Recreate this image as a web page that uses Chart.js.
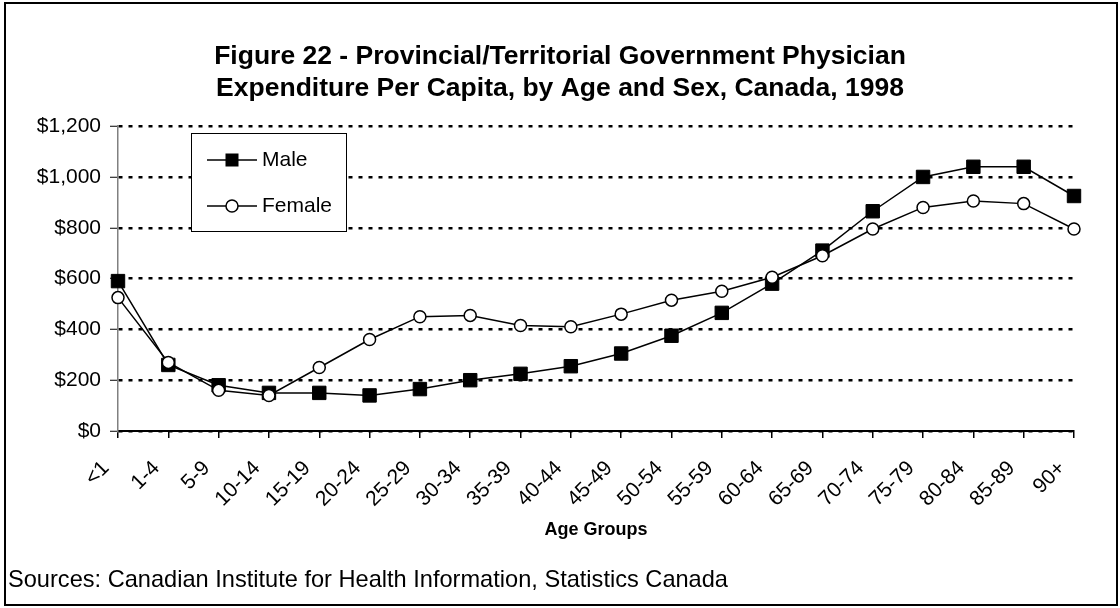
<!DOCTYPE html>
<html>
<head>
<meta charset="utf-8">
<title>Physician Expenditure Per Capita</title>
<script src="https://cdn.jsdelivr.net/npm/chart.js@4.4.1/dist/chart.umd.min.js"></script>
<style>
  html, body { margin: 0; padding: 0; background: #ffffff; }
  canvas { display: block; }
</style>
</head>
<body>
<canvas id="lineChart" width="1120" height="608"></canvas>
<script>
const ageGroups = ['<1', '1-4', '5-9', '10-14', '15-19', '20-24', '25-29', '30-34', '35-39', '40-44',
  '45-49', '50-54', '55-59', '60-64', '65-69', '70-74', '75-79', '80-84', '85-89', '90+'];
const maleSpend = [590, 260, 180, 150, 150, 140, 165, 200, 225, 255,
  305, 375, 465, 580, 710, 865, 1000, 1040, 1040, 925];
const femaleSpend = [525, 270, 160, 140, 250, 360, 450, 455, 415, 410,
  460, 515, 550, 605, 690, 795, 880, 905, 895, 795];
const yTickValues = [0, 200, 400, 600, 800, 1000, 1200];

const titleLines = [
  'Figure 22 - Provincial/Territorial Government Physician',
  'Expenditure Per Capita, by Age and Sex, Canada, 1998'
];
const sourceNote = 'Sources: Canadian Institute for Health Information, Statistics Canada';

const FONT = 'Arial, "Liberation Sans", sans-serif';

// frame, source note and the boxed legend
const framePlugin = {
  id: 'frame',
  beforeDraw(chart) {
    const ctx = chart.ctx;
    ctx.save();
    ctx.fillStyle = '#ffffff';
    ctx.fillRect(0, 0, chart.width, chart.height);
    ctx.restore();
  },
  afterDraw(chart) {
    const ctx = chart.ctx;
    ctx.save();
    ctx.strokeStyle = '#000';
    ctx.lineWidth = 2;
    ctx.strokeRect(5, 3, 1112, 602);

    ctx.fillStyle = '#000';
    ctx.font = '23.6px ' + FONT;
    ctx.textBaseline = 'middle';
    ctx.textAlign = 'left';
    ctx.fillText(sourceNote, 8, 580);

    // legend box
    ctx.fillStyle = '#fff';
    ctx.fillRect(191, 133, 155, 98);
    ctx.lineWidth = 1;
    ctx.strokeStyle = '#000';
    ctx.strokeRect(191.5, 133.5, 155, 98);

    const rows = [160, 206];
    chart.data.datasets.forEach((ds, i) => {
      const y = rows[i];
      ctx.strokeStyle = ds.borderColor;
      ctx.lineWidth = ds.borderWidth;
      ctx.beginPath();
      ctx.moveTo(207, y);
      ctx.lineTo(257, y);
      ctx.stroke();
      ctx.lineWidth = 1.5;
      if (ds.pointStyle === 'rect') {
        ctx.fillStyle = ds.pointBackgroundColor;
        ctx.fillRect(232 - 6.5, y - 6.5, 13, 13);
      } else {
        ctx.fillStyle = ds.pointBackgroundColor;
        ctx.beginPath();
        ctx.arc(232, y, 6, 0, Math.PI * 2);
        ctx.fill();
        ctx.stroke();
      }
      ctx.fillStyle = '#000';
      ctx.font = '21px ' + FONT;
      ctx.fillText(ds.label, 262, y);
    });
    ctx.restore();
  }
};

const ctx = document.getElementById('lineChart').getContext('2d');

const lineChart = new Chart(ctx, {
  type: 'line',
  data: {
    labels: ageGroups,
    datasets: [{
      label: 'Male',
      data: maleSpend,
      borderColor: '#000',
      borderWidth: 1.5,
      pointStyle: 'rect',
      pointRadius: 9.5,
      pointBackgroundColor: '#000',
      pointBorderColor: '#000',
      pointBorderWidth: 1,
      tension: 0,
      clip: false,
      order: 1
    }, {
      label: 'Female',
      data: femaleSpend,
      borderColor: '#000',
      borderWidth: 1.5,
      pointStyle: 'circle',
      pointRadius: 6,
      pointBackgroundColor: '#fff',
      pointBorderColor: '#000',
      pointBorderWidth: 1.5,
      tension: 0,
      clip: false,
      order: 0
    }]
  },
  options: {
    responsive: false,
    animation: false,
    events: [],
    layout: { padding: 0 },
    plugins: {
      legend: { display: false },
      tooltip: { enabled: false },
      title: {
        display: true,
        text: titleLines,
        color: '#000',
        font: { family: FONT, size: 26.5, weight: 'bold', lineHeight: 1.21 },
        padding: { top: 41, bottom: 21 }
      }
    },
    scales: {
      x: {
        offset: false,
        grid: {
          display: true,
          drawOnChartArea: false,
          drawTicks: true,
          tickLength: 7,
          color: '#000',
          lineWidth: 1.5
        },
        border: { color: '#000', width: 2 },
        ticks: {
          color: '#000',
          font: { family: FONT, size: 21 },
          minRotation: 45,
          maxRotation: 45,
          autoSkip: false,
          padding: 18,
          labelOffset: -12
        },
        title: {
          display: true,
          text: 'Age Groups',
          color: '#000',
          font: { family: FONT, size: 18, weight: 'bold' },
          padding: { top: 0, bottom: 67 }
        },
        afterFit(scale) { scale.height = 177; }
      },
      y: {
        min: 0,
        max: 1200,
        afterBuildTicks(scale) {
          scale.ticks = yTickValues.map(v => ({ value: v }));
        },
        ticks: {
          color: '#000',
          font: { family: FONT, size: 21 },
          padding: 9,
          callback: v => '$' + v.toLocaleString('en-US')
        },
        grid: {
          color: '#000',
          lineWidth: 2.5,
          tickLength: 8,
          tickColor: '#000',
          tickWidth: 1,
          tickBorderDash: []
        },
        border: { color: '#808080', width: 1.5, dash: [4, 6] },
        afterFit(scale) { scale.width = 118; }
      },
      yPad: {
        position: 'right',
        display: true,
        grid: { display: false },
        border: { display: false },
        ticks: { display: false },
        afterFit(scale) { scale.width = 46; }
      }
    }
  },
  plugins: [framePlugin]
});
</script>
</body>
</html>
